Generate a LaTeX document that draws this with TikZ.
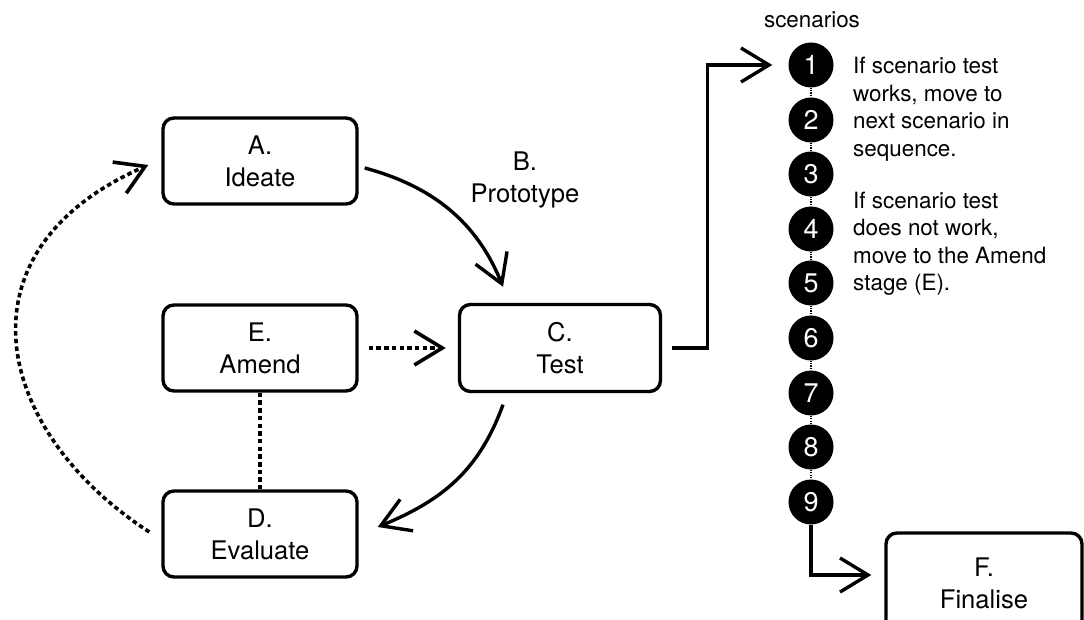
\documentclass[tikz,border=0pt]{standalone}
\usepackage{fontspec}
\setmainfont{TeX Gyre Heros}
\usetikzlibrary{arrows.meta}
\begin{document}
\begin{tikzpicture}[x=1pt,y=1pt,
  stage/.style={draw, line width=3.4pt, rounded corners=11pt, minimum width=194pt,
    minimum height=86pt, align=center, inner sep=0pt,
    font=\fontsize{25.6}{32}\selectfont},
  scen/.style={circle, fill=black, minimum size=45pt, inner sep=0pt, text=white,
    font=\fontsize{27}{27}\selectfont},
  note/.style={anchor=north west, inner sep=0pt, align=left,
    font=\fontsize{22.4}{27.5}\selectfont},
  flow/.style={line width=3.4pt, -{Straight Barb[length=28pt,width=34pt]}},
  dash3/.style={line width=3.6pt, dash pattern=on 4.5pt off 3.2pt},
  link/.style={line width=1.2pt, dash pattern=on 1.2pt off 1.2pt}
]
\useasboundingbox (0,0) rectangle (1084,619);

% design cycle stages
\node[stage] (A) at (260,458) {A.\\Ideate};
\node[stage] (E) at (260,271) {E.\\Amend};
\node[stage] (D) at (260,85) {D.\\Evaluate};
\node[stage, minimum width=201pt, minimum height=87pt] (C) at (560,271) {C.\\Test};
\node[stage, minimum width=196pt, minimum height=100pt] (F) at (984,36) {F.\\Finalise};
\node[align=center, font=\fontsize{25.6}{32}\selectfont] (B) at (525,439) {B.\\Prototype};

% scenario sequence
\node[font=\fontsize{22.4}{27}\selectfont] (title) at (812,599) {scenarios};
\foreach \i/\y in {1/554,2/499,3/445,4/390,5/336,6/281,7/226,8/172,9/117}
  \node[scen] (s\i) at (811,\y) {\i};
\foreach \i [count=\j from 2] in {1,...,8}
  \draw[link] (s\i) -- (s\j);

\node[note] (n1) at (853,562) {If scenario test\\works, move to\\next scenario in\\sequence.};
\node[note] (n2) at (853,427.5) {If scenario test\\does not work,\\move to the Amend\\stage (E).};

% connectors
\draw[flow] ([shift={(6pt,-7pt)}]A.east) .. controls +(-15:70pt) and +(112:70pt)
  .. ([shift={(-57pt,16pt)}]C.north);
\draw[flow] ([shift={(-57pt,-11.5pt)}]C.south) .. controls +(-110:70pt) and +(22.4:70pt)
  .. ([shift={(19pt,7pt)}]D.east);
\draw[flow, dash3] ([xshift=10pt]E.east) -- ([xshift=-12pt]C.west);
\draw[dash3] (E.south) -- (D.north);
\draw[flow, dash3] ([shift={(-12pt,2pt)}]D.west) .. controls +(147:185pt) and +(203.7:215pt)
  .. ([shift={(-13pt,-4pt)}]A.west);
\draw[flow] ([xshift=10pt]C.east) -- ++(35pt,0) |- ([xshift=-16pt]s1.west);
\draw[flow] (s9.south) |- ([shift={(-13pt,8pt)}]F.west);
\end{tikzpicture}
\end{document}
